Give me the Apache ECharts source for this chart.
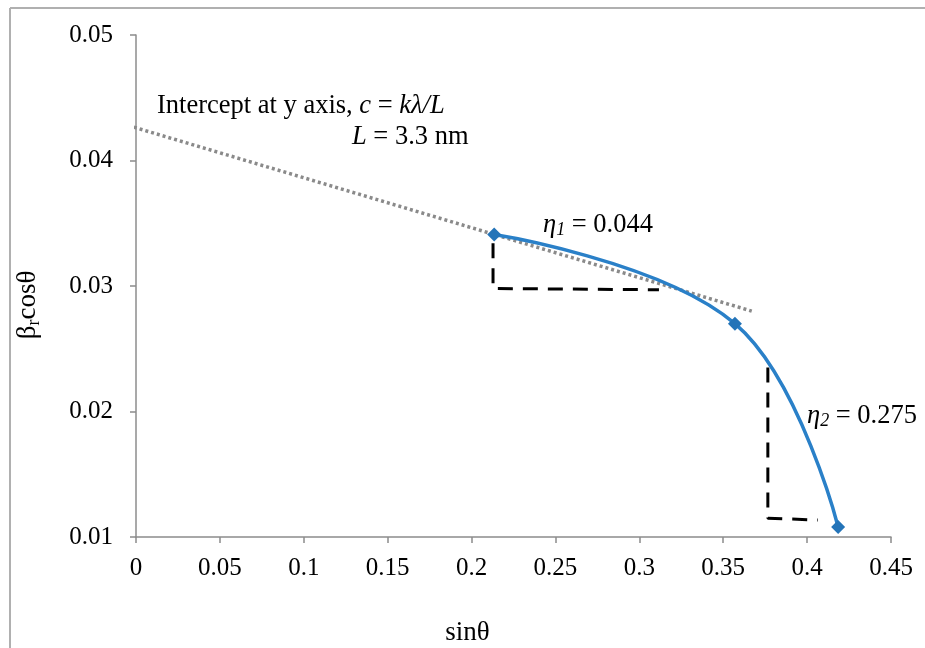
<!DOCTYPE html>
<html>
<head>
<meta charset="utf-8">
<script src="https://cdn.jsdelivr.net/npm/echarts@6/dist/echarts.min.js"></script>
<style>html,body{margin:0;padding:0;background:#fff;}#c{width:925px;height:648px;}</style>
</head>
<body>
<div id="c"></div>
<script>
// Data
const sinTheta = [0.2135, 0.357, 0.4185];
const betaCos = [0.0341, 0.0270, 0.0108];
const trendX = [-0.015, 0.367];
const trendY = [0.0432, 0.0280];
const eta1X = [0.2128, 0.2128, 0.3117];
const eta1Y = [0.0334, 0.0298, 0.0297];
const eta2X = [0.3766, 0.3766, 0.4064];
const eta2Y = [0.0235, 0.0115, 0.01135];

const FONT = '"Liberation Serif", "Times New Roman", serif';
const zip = (a, b) => a.map((v, i) => [v, b[i]]);

const chart = echarts.init(document.getElementById('c'));
chart.setOption({
  animation: false,
  backgroundColor: '#fff',
  grid: { left: 136, right: 34, top: 35, bottom: 111, outerBoundsMode: 'none', containLabel: false },
  xAxis: {
    type: 'value', min: 0, max: 0.45, interval: 0.05,
    name: 'sinθ', nameLocation: 'middle', nameGap: 82,
    nameTextStyle: { fontFamily: FONT, fontSize: 27, color: '#000', padding: [0, 92, 0, 0] },
    axisLine: { show: true, lineStyle: { color: '#8c8c8c', width: 1.5 } },
    axisTick: { show: true, length: 6, lineStyle: { color: '#8c8c8c', width: 1.5 } },
    axisLabel: { fontFamily: FONT, fontSize: 25, color: '#000', margin: 19 },
    splitLine: { show: false }
  },
  yAxis: {
    type: 'value', min: 0.01, max: 0.05, interval: 0.01,
    name: '{b|β}{s|r}{b|cosθ}', nameLocation: 'middle', nameGap: 93, nameRotate: 90,
    nameTextStyle: {
      fontFamily: FONT, fontSize: 27, color: '#000', padding: [0, 38, 0, 0],
      rich: {
        b: { fontFamily: FONT, fontSize: 27, color: '#000' },
        s: { fontFamily: FONT, fontSize: 18, color: '#000', padding: [12, 0, 0, 0] }
      }
    },
    axisLine: { show: true, lineStyle: { color: '#8c8c8c', width: 1.5 } },
    axisTick: { show: true, length: 6, lineStyle: { color: '#8c8c8c', width: 1.5 } },
    axisLabel: { fontFamily: FONT, fontSize: 25, color: '#000', margin: 23 },
    splitLine: { show: false }
  },
  series: [
    {
      type: 'line', data: zip(trendX, trendY), clip: false, symbol: 'none',
      lineStyle: { color: '#8a8a8a', width: 3.5, type: [3, 3] }, z: 2
    },
    {
      type: 'line', data: zip(eta1X, eta1Y), symbol: 'none',
      lineStyle: { color: '#000', width: 3, type: [15, 10] }, z: 1
    },
    {
      type: 'line', data: zip(eta2X, eta2Y), symbol: 'none',
      lineStyle: { color: '#000', width: 3, type: [15, 10] }, z: 1
    },
    {
      type: 'line', data: zip(sinTheta, betaCos), smooth: 0.4,
      symbol: 'diamond', symbolSize: 14,
      itemStyle: { color: '#2474b8' },
      lineStyle: { color: '#2a80c8', width: 3.5 }, z: 3
    }
  ],
  graphic: [
    { type: 'line', shape: { x1: 10, y1: 8, x2: 925, y2: 8 }, style: { stroke: '#b0b0b0', lineWidth: 2 } },
    { type: 'line', shape: { x1: 10, y1: 8, x2: 10, y2: 648 }, style: { stroke: '#b0b0b0', lineWidth: 2 } },
    {
      type: 'text', left: 157, top: 93,
      style: {
        text: '{n|Intercept at y axis, }{i|c}{n| = }{i|kλ/L}',
        rich: {
          n: { fontFamily: FONT, fontSize: 26.5, fill: '#000' },
          i: { fontFamily: FONT, fontSize: 26.5, fontStyle: 'italic', fill: '#000' }
        }
      }
    },
    {
      type: 'text', left: 352, top: 124,
      style: {
        text: '{i|L}{n| = 3.3 nm}',
        rich: {
          n: { fontFamily: FONT, fontSize: 26.5, fill: '#000' },
          i: { fontFamily: FONT, fontSize: 26.5, fontStyle: 'italic', fill: '#000' }
        }
      }
    },
    {
      type: 'text', left: 543, top: 212,
      style: {
        text: '{i|η}{s|1}{n| = 0.044}',
        rich: {
          n: { fontFamily: FONT, fontSize: 26.5, fill: '#000' },
          i: { fontFamily: FONT, fontSize: 26.5, fontStyle: 'italic', fill: '#000' },
          s: { fontFamily: FONT, fontSize: 18, fontStyle: 'italic', fill: '#000', padding: [10, 0, 0, 0] }
        }
      }
    },
    {
      type: 'text', left: 807, top: 403,
      style: {
        text: '{i|η}{s|2}{n| = 0.275}',
        rich: {
          n: { fontFamily: FONT, fontSize: 26.5, fill: '#000' },
          i: { fontFamily: FONT, fontSize: 26.5, fontStyle: 'italic', fill: '#000' },
          s: { fontFamily: FONT, fontSize: 18, fontStyle: 'italic', fill: '#000', padding: [10, 0, 0, 0] }
        }
      }
    }
  ]
});
</script>
</body>
</html>
